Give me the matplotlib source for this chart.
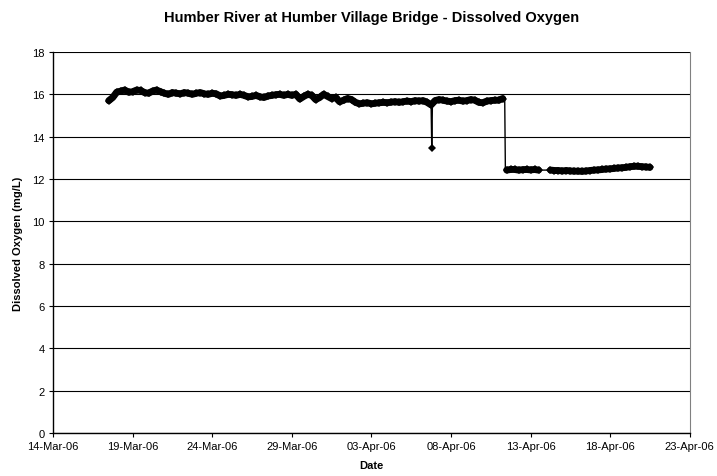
import numpy as np
import pandas as pd
import matplotlib
matplotlib.use("Agg")
import matplotlib.pyplot as plt
import matplotlib.dates as mdates

plt.rcParams['font.family'] = ['Liberation Sans', 'DejaVu Sans']

title = 'Humber River at Humber Village Bridge - Dissolved Oxygen'

# 6-hourly readings starting 17-Mar-06 12:00 (NaN = missing)
start_time = '2006-03-17 12:00'
do_values = [
    15.70, 15.85,                      # 17-Mar
    16.10, 16.15, 16.20, 16.10,        # 18-Mar
    16.12, 16.20, 16.18, 16.08,        # 19-Mar
    16.05, 16.15, 16.20, 16.12,        # 20-Mar
    16.05, 16.00, 16.08, 16.05,        # 21-Mar
    16.02, 16.08, 16.05, 16.00,        # 22-Mar
    16.05, 16.08, 16.02, 16.00,        # 23-Mar
    16.05, 16.02, 15.92, 15.95,        # 24-Mar
    16.00, 15.98, 15.95, 16.00,        # 25-Mar
    15.95, 15.88, 15.90, 15.95,        # 26-Mar
    15.88, 15.85, 15.92, 15.95,        # 27-Mar
    15.98, 16.00, 15.95, 16.00,        # 28-Mar
    15.95, 16.00, 15.78, 15.90,        # 29-Mar
    16.00, 15.95, 15.75, 15.85,        # 30-Mar
    16.00, 15.90, 15.80, 15.85,        # 31-Mar
    15.65, 15.72, 15.80, 15.75,        # 01-Apr
    15.62, 15.55, 15.58, 15.60,        # 02-Apr
    15.55, 15.58, 15.60, 15.62,        # 03-Apr
    15.60, 15.63, 15.65, 15.62,        # 04-Apr
    15.65, 15.68, 15.65, 15.70,        # 05-Apr
    15.68, 15.70, 15.62, 15.50,        # 06-Apr
    15.70, 15.75, 15.72, 15.68,        # 07-Apr
    15.65, 15.70, 15.72, 15.68,        # 08-Apr
    15.70, 15.75, 15.72, 15.62,        # 09-Apr
    15.60, 15.68, 15.70, 15.72,        # 10-Apr
    15.72, 15.80, 12.42, 12.45,        # 11-Apr
    12.45, 12.42, 12.44, 12.45,        # 12-Apr
    12.43, 12.45, 12.42, np.nan,       # 13-Apr
    np.nan, 12.42, 12.40, 12.40,       # 14-Apr
    12.38, 12.40, 12.38, 12.37,        # 15-Apr
    12.37, 12.36, 12.38, 12.40,        # 16-Apr
    12.42, 12.43, 12.45, 12.47,        # 17-Apr
    12.48, 12.50, 12.52, 12.53,        # 18-Apr
    12.55, 12.58, 12.60, 12.60,        # 19-Apr
    12.58, 12.57, 12.55,               # 20-Apr
]

# extra readings around the sudden changes
spike_time = '2006-04-06 19:00'
extra_times = [spike_time, '2006-04-06 20:00', '2006-04-11 09:00', '2006-04-11 10:00']
extra_values = [13.45, 15.55, 15.78, 12.42]

times = pd.date_range(start_time, periods=len(do_values), freq='6h')
grid = pd.Series(do_values, index=times)
series = pd.concat([grid, pd.Series(extra_values, index=pd.to_datetime(extra_times))])
series = series.sort_index().dropna()

fig = plt.figure(figsize=(7.17, 4.77), dpi=100)
ax = fig.add_axes([0.074, 0.090, 0.888, 0.799])

# thin connecting line through everything (including the data gap)
ax.plot(series.index, series.values, color='black', lw=1.0, zorder=3)
# dense markers in the original read as a thick band
for part in [grid.loc[:'2006-04-11 06:00'], grid.loc['2006-04-11 12:00':]]:
    ax.plot(part.index, part.values, color='black', lw=5, solid_capstyle='round',
            solid_joinstyle='round', zorder=4)
    ax.plot(part.index, part.values, ls='none', color='black', marker='D',
            markersize=4.5, markeredgewidth=0, zorder=4)
ax.plot([pd.Timestamp(spike_time)], [series[pd.Timestamp(spike_time)]],
        ls='none', color='black', marker='D', markersize=4.2, markeredgewidth=0, zorder=4)

ax.set_xlim(pd.Timestamp('2006-03-14'), pd.Timestamp('2006-04-23'))
ax.set_ylim(0, 18)
ax.set_yticks(range(0, 19, 2))
ax.set_xticks(pd.date_range('2006-03-14', '2006-04-23', freq='5D'))
ax.xaxis.set_major_formatter(mdates.DateFormatter('%d-%b-%y'))

ax.grid(axis='y', color='black', lw=0.8)
ax.set_axisbelow(True)
ax.spines['top'].set_visible(False)
ax.spines['right'].set_color('#808080')
for s in ['left', 'bottom']:
    ax.spines[s].set_linewidth(1.0)
ax.tick_params(axis='both', labelsize=8, length=3, width=0.8, direction='out', pad=3)

ax.set_title(title, fontsize=10.5, fontweight='bold', pad=22)
ax.set_xlabel('Date', fontsize=8, fontweight='bold', labelpad=6)
ax.set_ylabel('Dissolved Oxygen (mg/L)', fontsize=8, fontweight='bold', labelpad=7)

fig.savefig('out.png', dpi=100)
